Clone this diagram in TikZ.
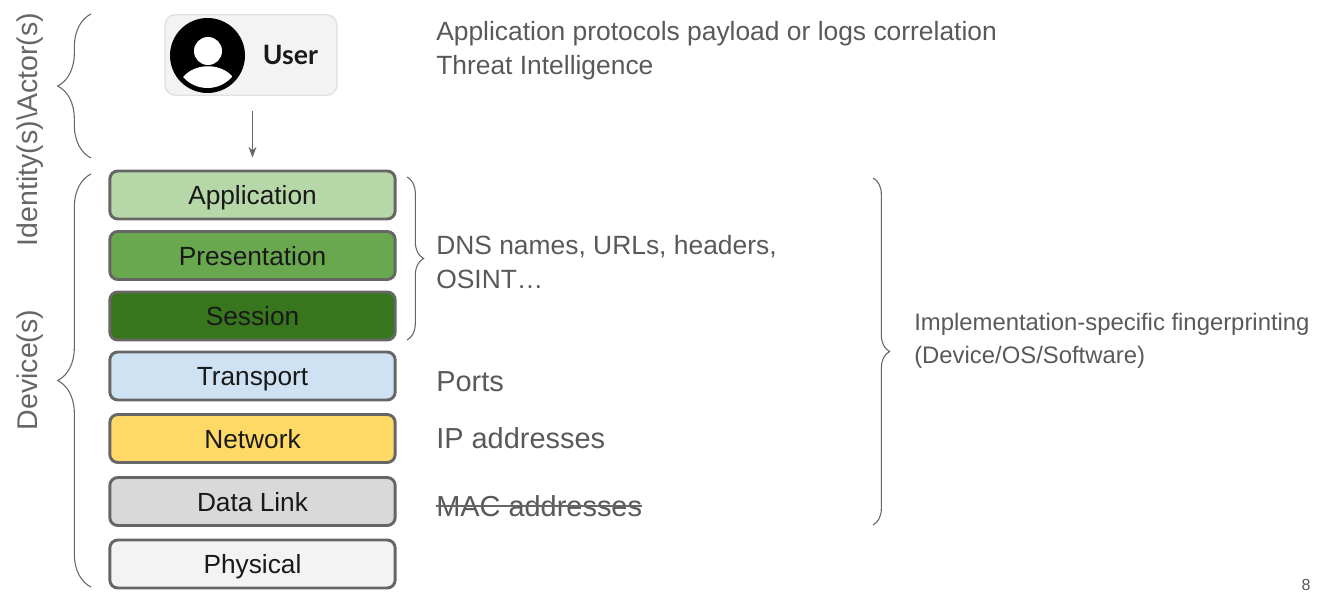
\documentclass[tikz,border=0pt]{standalone}
\usepackage{fontspec}
\setmainfont{Liberation Sans}
\newfontfamily\userfont{Lato}
\usetikzlibrary{arrows.meta,decorations.pathreplacing}
\tikzset{
  layerbox/.style={draw=black!60,line width=2.2pt,rounded corners=6pt,minimum width=214pt,minimum height=36pt,inner sep=0pt,text height=18.4pt,text depth=4pt,text=black!90,font=\fontsize{19.7}{23}\selectfont},
  greytext/.style={text=black!65,inner sep=0pt,anchor=west,align=left,font=\fontsize{19.8}{25.5}\selectfont},
  bigtext/.style={greytext,font=\fontsize{21.7}{26}\selectfont},
  sidetext/.style={text=black!60,inner sep=0pt,font=\fontsize{21.4}{26}\selectfont},
  bracket/.style={draw=black!60,line width=0.8pt,decorate,decoration={brace,amplitude=#1}},
}
\definecolor{appcol}{HTML}{B6D7A8}
\definecolor{precol}{HTML}{6AA84F}
\definecolor{sescol}{HTML}{38761D}
\definecolor{tracol}{HTML}{CFE2F3}
\definecolor{netcol}{HTML}{FFD966}
\definecolor{datcol}{HTML}{D9D9D9}
\definecolor{phycol}{HTML}{F3F3F3}
\begin{document}
\begin{tikzpicture}[x=0.75pt,y=-0.75pt]
\useasboundingbox (0,0) rectangle (1321,610);
\node[draw=black!12,line width=1pt,fill=phycol,rounded corners=8pt,minimum width=129pt,minimum height=60.5pt,inner sep=0pt] (user) at (251,55) {};
\fill (207.5,55.5) circle (37.5);
\fill[white] (208,51) circle (14);
\begin{scope}
\clip (207.5,55.5) circle (32.5);
\fill[white] (180,95) -- (180,82) .. controls (190,61) and (226,61) .. (236,82) -- (236,95) -- cycle;
\end{scope}
\node[font=\userfont\bfseries\fontsize{20}{23}\selectfont,text=black!90,inner sep=0pt] (usertext) at (290.5,55) {User};
\foreach \n/\t/\y/\c in {app/Application/195/appcol,pre/Presentation/255.5/precol,ses/Session/316/sescol,tra/Transport/376/tracol,net/Network/438.5/netcol,dat/Data Link/501.5/datcol,phy/Physical/564/phycol}
{\node[layerbox,fill=\c] (\n) at (252.5,\y) {\t};}
\draw[-{Stealth[length=8pt,width=6pt]},draw=black!60,line width=0.8pt,shorten <=15pt*0.75,shorten >=12pt*0.75] (user.south -| app.north) -- (app.north);
% braces
\coordinate (a1) at (91,158); \coordinate (a2) at (91,14);
\coordinate (d1) at (91,587); \coordinate (d2) at (91,174);
\coordinate (s1) at (407,177); \coordinate (s2) at (407,340);
\coordinate (f1) at (873,178); \coordinate (f2) at (873,525);
\draw[bracket=25pt] (a1) -- (a2);
\draw[bracket=25pt] (d1) -- (d2);
\draw[bracket=12.5pt] (s1) -- (s2);
\draw[bracket=12.5pt] (f1) -- (f2);
\node[sidetext,rotate=90] (actor) at (30,129.5) {Identity(s)\textbackslash Actor(s)};
\node[sidetext,rotate=90] (device) at (30,370) {Device(s)};
\node[greytext] (threat) at (436,51) {Application protocols payload or logs correlation\\Threat Intelligence};
\node[greytext] (dns) at (436,262) {DNS names, URLs, headers,\\OSINT…};
\node[bigtext] (ports) at (436,382) {Ports};
\node[bigtext] (ip) at (436,438) {IP addresses};
\node[bigtext] (mac) at (436,506) {MAC addresses};
\draw[black!60,line width=1pt] (mac.west) -- (mac.east);
\node[greytext,font=\fontsize{17.9}{25}\selectfont] (impl) at (914,341) {Implementation-specific fingerprinting\\(Device/OS/Software)};
\node[text=black!65,inner sep=0pt,font=\fontsize{12}{14}\selectfont] (page) at (1306,585) {8};
\end{tikzpicture}
\end{document}
